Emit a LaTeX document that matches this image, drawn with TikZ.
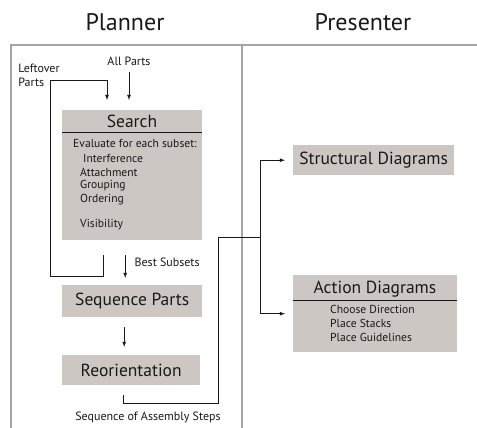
\documentclass[tikz,border=0pt]{standalone}
\usepackage{fontspec}
\setmainfont{PT Sans}
\usetikzlibrary{positioning}
\definecolor{boxgray}{RGB}{204,199,195}
\definecolor{linegray}{RGB}{165,165,165}
\definecolor{inkgray}{RGB}{25,25,25}
\begin{document}
\begin{tikzpicture}[x=1pt, y=-1pt,
    % Define styles
    stage/.style={
        rectangle,
        fill=boxgray,
        inner sep=0pt,
        anchor=north west,
        text=inkgray,
        font=\fontsize{17.5}{20}\selectfont
    },
    heading/.style={
        font=\fontsize{24}{28}\selectfont,
        text=inkgray
    },
    boxtitle/.style={
        font=\fontsize{17.5}{20}\selectfont,
        text=inkgray,
        inner sep=0pt
    },
    note/.style={
        font=\fontsize{12}{14}\selectfont,
        text=inkgray,
        inner sep=0pt
    },
    item/.style={
        font=\fontsize{11.6}{13}\selectfont,
        text=inkgray,
        anchor=west,
        inner sep=0pt
    },
    arrow/.style={
        -latex,
        thick,
        draw=inkgray
    },
    wire/.style={
        thick,
        draw=inkgray
    },
    frame/.style={
        draw=linegray,
        line width=1.2pt
    }
]

\useasboundingbox (0,0) rectangle (477,428);

% Column titles
\node[heading] (planner) at (125,22) {Planner};
\node[heading] (presenter) at (363,22) {Presenter};

% Frame lines
\coordinate (topleft) at (11,45);
\coordinate (topright) at (477,45);
\coordinate (bottomleft) at (11,428);
\coordinate (divtop) at (242,45);
\coordinate (divbottom) at (242,428);
\draw[frame] (bottomleft) -- (topleft) -- (topright);
\draw[frame] (divtop) -- (divbottom);

% Search box
\node[stage, minimum width=140, minimum height=130] (search) at (62,110) {};
\node[boxtitle] (searchtitle) at (132,121) {Search};
\draw[wire] ([yshift=-22pt]search.north west) -- ([yshift=-22pt]search.north east);
\node[item] (evaluate) at (73,143) {Evaluate for each subset:};
\node[item] (interference) at (83,158) {Interference};
\node[item] (attachment) at (80,172) {Attachment};
\node[item] (grouping) at (80,186) {Grouping};
\node[item] (ordering) at (80,200) {Ordering};
\node[item] (visibility) at (80,225) {Visibility};

% Inputs of the search
\node[note] (allparts) at (129,61) {All Parts};
\draw[arrow, shorten <=6pt, shorten >=10pt] (allparts.south) -- (allparts.south |- search.north);
\node[note, align=left] (leftover) at (39,75) {Leftover\\Parts};

% Loop back of leftover parts
\coordinate (loopstart) at ([xshift=-29pt,yshift=-15pt]search.south);
\coordinate (loopcorner) at (50,80);
\coordinate (loopin) at (107,80);
\draw[arrow, shorten >=10pt] (loopstart) -- ++(0,21) -| (loopcorner) -- (loopin) -- (loopin |- search.north);

% Planner stages
\node[stage, minimum width=140, minimum height=32] (seqparts) at (62,285) {Sequence Parts};
\node[stage, minimum width=138, minimum height=30] (reorient) at (62,355) {Reorientation};

\draw[arrow, shorten <=15pt, shorten >=7pt] ([xshift=-7pt]search.south) -- ([xshift=-7pt]seqparts.north)
    node[note, midway, right=9pt] (bestsubsets) {Best Subsets};
\draw[arrow, shorten <=10pt, shorten >=8pt] ([xshift=-8pt]seqparts.south) -- ([xshift=-7pt]reorient.north);

% Presenter stages
\node[stage, minimum width=161, minimum height=30] (structural) at (293,145) {Structural Diagrams};
\node[stage, minimum width=164, minimum height=77] (action) at (293,275) {};
\node[boxtitle] (actiontitle) at (375,289) {Action Diagrams};
\draw[wire] ([yshift=-25pt]action.north west) -- ([yshift=-25pt]action.north east);
\node[item] (direction) at (330,309) {Choose Direction};
\node[item] (stacks) at (330,323) {Place Stacks};
\node[item] (guidelines) at (330,337) {Place Guidelines};

% Output of the planner
\coordinate (outstart) at ([xshift=-8pt,yshift=-10pt]reorient.south);
\coordinate (riser) at (218,237);
\coordinate (branch) at (260,237);
\draw[wire] (outstart) -- ++(0,8) -| (riser) -- (branch);
\draw[arrow, shorten >=8pt] (branch) |- (structural.west);
\draw[arrow, shorten >=8pt] (branch) |- (action.west);
\node[note] (steps) at (148,417) {Sequence of Assembly Steps};
\end{tikzpicture}
\end{document}
